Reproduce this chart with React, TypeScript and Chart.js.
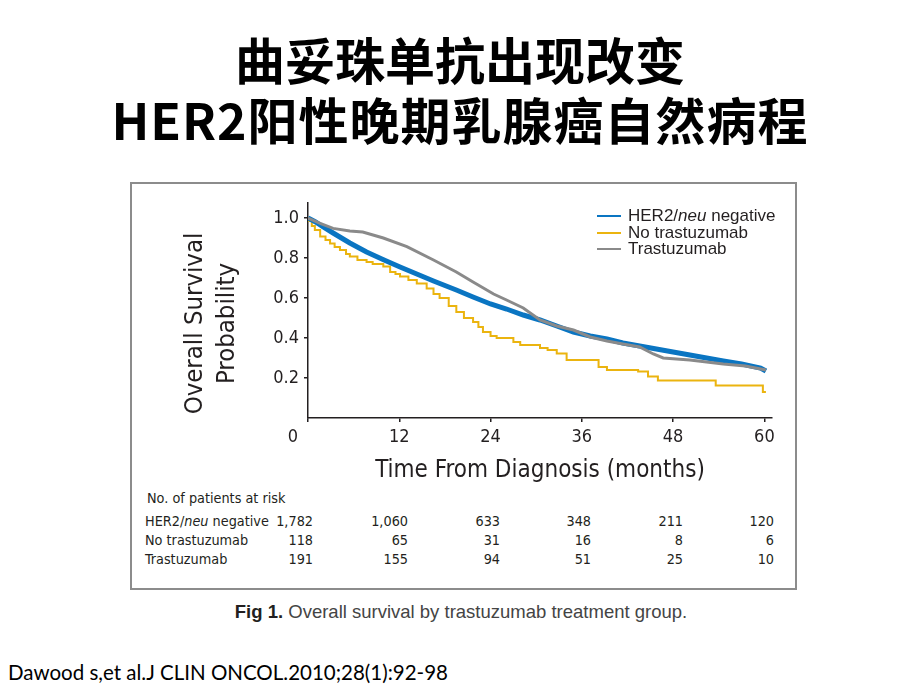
import React, { useEffect, useRef } from "react";
import { Chart, registerables } from "chart.js";

Chart.register(...registerables);

// ---------- data ----------
const xTicks = [0, 12, 24, 36, 48, 60];
const yTicks = [0.2, 0.4, 0.6, 0.8, 1.0];
const seriesNames = ["HER2/neu negative", "No trastuzumab", "Trastuzumab"];

const her2NegMonths = [0, 1, 2, 3.3, 5.5, 7.7, 10, 12.1, 14.3, 16.5, 19.5, 21.7, 24, 26.1, 28.3, 30.5, 32.7, 34.9, 37.1, 39.3, 41.4, 43.6, 45.8, 48, 50.2, 52.4, 54.6, 57, 59.5, 60.2];
const her2NegSurv = [1.0, 0.98, 0.955, 0.925, 0.875, 0.83, 0.79, 0.755, 0.72, 0.685, 0.64, 0.605, 0.57, 0.545, 0.515, 0.49, 0.46, 0.43, 0.41, 0.395, 0.375, 0.36, 0.345, 0.33, 0.315, 0.3, 0.285, 0.27, 0.25, 0.235];

const noTrastMonths = [0, 0.5, 0.9, 1.6, 2.3, 2.9, 3.5, 4.2, 5.0, 5.5, 6.5, 7.7, 8.5, 9.9, 10.8, 11.5, 12.1, 13.2, 14.3, 15.6, 16.5, 17.3, 18.5, 19.5, 20.5, 21.7, 22.4, 23.0, 24.0, 24.8, 27.0, 27.9, 30.5, 31.5, 32.7, 34.0, 38.2, 39.3, 43.4, 44.7, 46.0, 53.6, 59.8, 60.2];
const noTrastSurv = [0.985, 0.96, 0.94, 0.907, 0.89, 0.873, 0.855, 0.84, 0.82, 0.807, 0.79, 0.78, 0.77, 0.757, 0.73, 0.72, 0.707, 0.69, 0.673, 0.648, 0.62, 0.6, 0.56, 0.53, 0.5, 0.48, 0.455, 0.43, 0.41, 0.4, 0.38, 0.365, 0.35, 0.34, 0.323, 0.29, 0.255, 0.24, 0.233, 0.208, 0.188, 0.163, 0.13, 0.13];

const trastMonths = [0, 1.6, 3.3, 5.5, 7.2, 9.9, 13, 16.5, 19.5, 21.7, 24.4, 26.1, 28.3, 30.5, 32.7, 34.9, 37.1, 39.3, 41.4, 43.6, 45.4, 46.7, 50.2, 54.6, 57.5, 60.2];
const trastSurv = [1.0, 0.973, 0.948, 0.935, 0.93, 0.9, 0.857, 0.79, 0.73, 0.68, 0.62, 0.59, 0.55, 0.49, 0.46, 0.44, 0.405, 0.385, 0.37, 0.355, 0.32, 0.3, 0.29, 0.27, 0.26, 0.24];

const riskHeader = "No. of patients at risk";
const riskHer2Neg = ["1,782", "1,060", "633", "348", "211", "120"];
const riskNoTrast = ["118", "65", "31", "16", "8", "6"];
const riskTrast = ["191", "155", "94", "51", "25", "10"];

const titleLine1 = "曲妥珠单抗出现改变";
const titleLine2 = "HER2阳性晚期乳腺癌自然病程";
const xTitle = "Time From Diagnosis (months)";
const yTitle = ["Overall Survival", "Probability"];
const captionBold = "Fig 1.";
const captionText = " Overall survival by trastuzumab treatment group.";
const citation = "Dawood s,et al.J CLIN ONCOL.2010;28(1):92-98";

// ---------- styles ----------
const COND = "'Liberation Sans Narrow', 'DejaVu Sans Condensed', 'Roboto', sans-serif";
const SANS = "'Liberation Sans', Arial, sans-serif";
const CJK = "'Noto Sans CJK SC', 'Noto Sans', sans-serif";
const TEXT = "#231f20";
const BLUE = "#0a75c2";
const YELLOW = "#ebb40f";
const GRAY = "#8a8a8a";

const toPts = (xs: number[], ys: number[]) => xs.map((x, i) => ({ x, y: ys[i] }));

const extraText = {
  id: "extraText",
  afterDraw(chart: any) {
    const xs = chart.scales.x;
    const { ctx, chartArea } = chart;
    ctx.save();
    ctx.fillStyle = TEXT;
    ctx.textAlign = "center";
    ctx.textBaseline = "middle";
    // corner "0" label, set left of the origin as in the original
    ctx.font = `18px ${COND}`;
    ctx.fillText(String(xTicks[0]), xs.getPixelForValue(xTicks[0]) - 15, xs.top + 19);
    // two-line rotated y-axis title
    ctx.font = `25.5px ${COND}`;
    const cy = (chartArea.top + chartArea.bottom) / 2 + 13;
    yTitle.forEach((t, i) => {
      ctx.save();
      ctx.translate(chartArea.left - 113 + i * 32, cy);
      ctx.rotate(-Math.PI / 2);
      ctx.fillText(t, 0, 0);
      ctx.restore();
    });
    ctx.restore();
  },
};

function Abs(props: { left: number; cy: number; size: number; family: string; children: any; weight?: number; width?: number; align?: any; color?: string; lh?: number; spacing?: number }) {
  const lh = props.lh ?? Math.round(props.size * 1.3);
  return (
    <div
      style={{
        position: "absolute",
        left: props.left,
        top: props.cy - lh / 2,
        width: props.width,
        height: lh,
        lineHeight: lh + "px",
        fontSize: props.size,
        fontFamily: props.family,
        fontWeight: props.weight ?? 400,
        color: props.color ?? TEXT,
        textAlign: props.align ?? "left",
        whiteSpace: "nowrap",
        letterSpacing: props.spacing ?? 0,
      }}
    >
      {props.children}
    </div>
  );
}

export default function App() {
  const ref = useRef<HTMLCanvasElement>(null);

  useEffect(() => {
    const canvas = ref.current!;
    const tickFont = { family: COND, size: 18 };
    const chart = new Chart(canvas, {
      type: "line",
      data: {
        datasets: [
          {
            label: seriesNames[0],
            data: toPts(her2NegMonths, her2NegSurv),
            borderColor: BLUE,
            backgroundColor: BLUE,
            borderWidth: 5,
            pointRadius: 0,
            tension: 0,
            order: 1,
          },
          {
            label: seriesNames[1],
            data: toPts(noTrastMonths, noTrastSurv),
            borderColor: YELLOW,
            backgroundColor: YELLOW,
            borderWidth: 2,
            pointRadius: 0,
            stepped: "before",
            order: 2,
          },
          {
            label: seriesNames[2],
            data: toPts(trastMonths, trastSurv),
            borderColor: GRAY,
            backgroundColor: GRAY,
            borderWidth: 3,
            pointRadius: 0,
            tension: 0,
            order: 0,
          },
        ],
      },
      options: {
        responsive: false,
        maintainAspectRatio: false,
        animation: false,
        events: [],
        layout: { padding: { top: 21, right: 26, left: 0, bottom: 0 } },
        plugins: { legend: { display: false }, tooltip: { enabled: false } },
        scales: {
          x: {
            type: "linear",
            min: 0,
            max: 61,
            afterBuildTicks: (s: any) => {
              s.ticks = xTicks.map((v) => ({ value: v }));
            },
            afterFit: (s: any) => {
              s.height = 68;
            },
            ticks: {
              callback: (v: any) => (v === 0 ? "" : String(v)),
              font: tickFont,
              color: TEXT,
              padding: 5,
              maxRotation: 0,
              autoSkip: false,
            },
            grid: { drawOnChartArea: false, tickLength: 4, color: TEXT, lineWidth: 1.5 },
            border: { color: TEXT, width: 1.5 },
            title: {
              display: true,
              text: xTitle,
              font: { family: COND, size: 24, lineHeight: 1.2 },
              color: TEXT,
              padding: { top: 0, bottom: 1 },
            },
          },
          y: {
            type: "linear",
            min: 0,
            max: 1.075,
            afterBuildTicks: (s: any) => {
              s.ticks = yTicks.map((v) => ({ value: v }));
            },
            afterFit: (s: any) => {
              s.width = 178;
            },
            ticks: {
              callback: (v: any) => Number(v).toFixed(1),
              font: tickFont,
              color: TEXT,
              padding: 5,
            },
            grid: { drawOnChartArea: false, tickLength: 4, color: TEXT, lineWidth: 1.5 },
            border: { color: TEXT, width: 1.5 },
            title: { display: false },
          },
        },
      },
      plugins: [extraText],
    } as any);
    return () => chart.destroy();
  }, []);

  const legendRows = [
    { color: BLUE, cy: 216, label: <>HER2/<i>neu</i> negative</> },
    { color: YELLOW, cy: 233, label: <>{seriesNames[1]}</> },
    { color: GRAY, cy: 249, label: <>{seriesNames[2]}</> },
  ];
  const riskRights = [313, 408, 500, 591, 683, 774];
  const riskRows = [
    { cy: 521, label: <>HER2/<i>neu</i> negative</>, vals: riskHer2Neg },
    { cy: 540, label: <>{seriesNames[1]}</>, vals: riskNoTrast },
    { cy: 559, label: <>{seriesNames[2]}</>, vals: riskTrast },
  ];
  const RS = 14.3;

  return (
    <div style={{ position: "absolute", left: 0, top: 0, width: 920, height: 690, background: "#fff", overflow: "hidden" }}>
      <Abs left={0} width={920} cy={58} size={50} family={CJK} weight={700} align="center" color="#000" lh={62}>
        {titleLine1}
      </Abs>
      <Abs left={0} width={920} cy={118} size={50} family={CJK} weight={700} align="center" color="#000" lh={62} spacing={1}>
        {titleLine2}
      </Abs>

      <div
        style={{
          position: "absolute",
          left: 130,
          top: 182,
          width: 667,
          height: 408,
          border: "2px solid #8c8c8c",
          boxSizing: "border-box",
        }}
      />
      <canvas
        ref={ref}
        width={668}
        height={304}
        style={{ position: "absolute", left: 130, top: 182, width: 668, height: 304 }}
      />

      {legendRows.map((r, i) => (
        <React.Fragment key={i}>
          <div style={{ position: "absolute", left: 597, top: r.cy - 1.25, width: 24, height: 2.5, background: r.color }} />
          <Abs left={628} cy={r.cy} size={17} family={SANS} lh={18}>
            {r.label}
          </Abs>
        </React.Fragment>
      ))}

      <Abs left={147} cy={498} size={RS} family={COND}>
        {riskHeader}
      </Abs>
      {riskRows.map((r, i) => (
        <React.Fragment key={i}>
          <Abs left={145} cy={r.cy} size={RS} family={COND}>
            {r.label}
          </Abs>
          {r.vals.map((v, j) => (
            <Abs key={j} left={riskRights[j] - 80} width={80} align="right" cy={r.cy} size={RS} family={COND}>
              {v}
            </Abs>
          ))}
        </React.Fragment>
      ))}

      <Abs left={0} width={922} align="center" cy={612} size={18.5} family={SANS} color="#444">
        <b style={{ color: TEXT }}>{captionBold}</b>
        {captionText}
      </Abs>

      <Abs left={8} cy={672} size={20.5} family={"Lato, 'Open Sans', sans-serif"} color="#000">
        {citation}
      </Abs>
    </div>
  );
}
